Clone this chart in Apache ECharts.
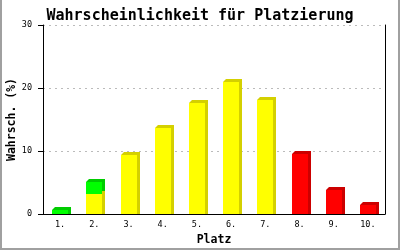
<!DOCTYPE html>
<html><head><meta charset="utf-8">
<script src="https://cdn.jsdelivr.net/npm/echarts@6/dist/echarts.min.js"></script>
<style>html,body{margin:0;padding:0;background:#fff}#c{width:400px;height:250px}</style>
</head><body><div id="c"></div>
<script>
const categories = ['1.','2.','3.','4.','5.','6.','7.','8.','9.','10.'];
const yellowValues = [null, 3.2, 9.4, 13.65, 17.6, 20.95, 18.1, null, null, null];
const greenValues = [0.65, 1.9, null, null, null, null, null, null, null, null]; // stacked on yellow
const redValues = [null, null, null, null, null, null, null, 9.5, 3.8, 1.45];
const yTicks = [0, 10, 20, 30];

const chart = echarts.init(document.getElementById('c'), null, {renderer:'canvas'});

function build(vals, baseVals){
  const out = [];
  vals.forEach((v,i)=>{
    if (v == null) return;
    const b = baseVals && baseVals[i] != null ? baseVals[i] : 0;
    out.push([i, b, b + v]);
  });
  return out;
}
function mkRender(front, dark){
  return function(params, api){
    const i = api.value(0), base = api.value(1), top = api.value(2);
    const pt = api.coord([i, top]);
    const pb = api.coord([i, base]);
    const bw = Math.round(api.size([1,0])[0]*0.47);
    const l = Math.round(pt[0] - bw/2), r = l + bw;
    const yt = Math.round(pt[1]), yb = Math.round(pb[1]);
    const d = 3;
    const sideBottom = base > 0 ? yb - d : yb;
    return {type:'group', children:[
      {type:'polygon', shape:{points:[[l,yt],[l+d,yt-d],[r+d,yt-d],[r+d,sideBottom],[r,sideBottom]]}, style:{fill:dark}},
      {type:'rect', shape:{x:l,y:yt,width:r-l,height:yb-yt}, style:{fill:front}}
    ]};
  };
}
const mono = 'DejaVu Sans Mono';
chart.setOption({
  animation:false,
  backgroundColor:'#fff',
  title:{text:'Wahrscheinlichkeit für Platzierung', left:'center', top:4,
    textStyle:{fontFamily:mono, fontWeight:'bold', fontSize:15, color:'#000'}},
  grid:{left:43, right:15, top:25, bottom:36, containLabel:false, outerBoundsMode:'none'},
  graphic:[
    {type:'rect', shape:{x:0,y:0,width:2,height:250}, style:{fill:'#a0a0a0'}, silent:true, z:100},
    {type:'rect', shape:{x:398,y:0,width:2,height:250}, style:{fill:'#a0a0a0'}, silent:true, z:100},
    {type:'rect', shape:{x:0,y:248,width:400,height:2}, style:{fill:'#a0a0a0'}, silent:true, z:100}
  ],
  xAxis:{type:'category', data:categories, z:10,
    axisLine:{lineStyle:{color:'#000', width:1}}, axisTick:{show:false},
    axisLabel:{fontFamily:mono, fontSize:8.5, color:'#000', margin:6},
    name:'Platz', nameLocation:'middle', nameGap:20, nameMoveOverlap:false,
    nameTextStyle:{fontFamily:mono, fontWeight:'bold', fontSize:11.5, color:'#000'}},
  yAxis:[{type:'value', min:0, max:30, interval:10,
    axisLine:{show:true, lineStyle:{color:'#000'}},
    axisTick:{show:true, length:5, lineStyle:{color:'#000'}},
    axisLabel:{fontFamily:mono, fontSize:8.5, color:'#000', margin:11,
      formatter:v=> yTicks.includes(v) ? String(v) : ''},
    splitLine:{show:true, lineStyle:{color:'#bbbbbb', type:[2,4]}},
    name:'Wahrsch. (%)', nameLocation:'middle', nameGap:25, nameRotate:90, nameMoveOverlap:false,
    nameTextStyle:{fontFamily:mono, fontWeight:'bold', fontSize:11.5, color:'#000'}},
   {type:'value', min:0, max:30, interval:10, position:'right',
    axisLine:{show:true, lineStyle:{color:'#000'}}, axisTick:{show:false},
    axisLabel:{show:false}, splitLine:{show:false}}],
  series:[
    {type:'custom', name:'yellow', renderItem:mkRender('#ffff00','#d4d000'), data:build(yellowValues), encode:{x:0,y:[1,2]}},
    {type:'custom', name:'green', renderItem:mkRender('#00ff00','#00cc00'), data:build(greenValues, yellowValues), encode:{x:0,y:[1,2]}},
    {type:'custom', name:'red', renderItem:mkRender('#ff0000','#cc0000'), data:build(redValues), encode:{x:0,y:[1,2]}}
  ]
});
</script></body></html>
